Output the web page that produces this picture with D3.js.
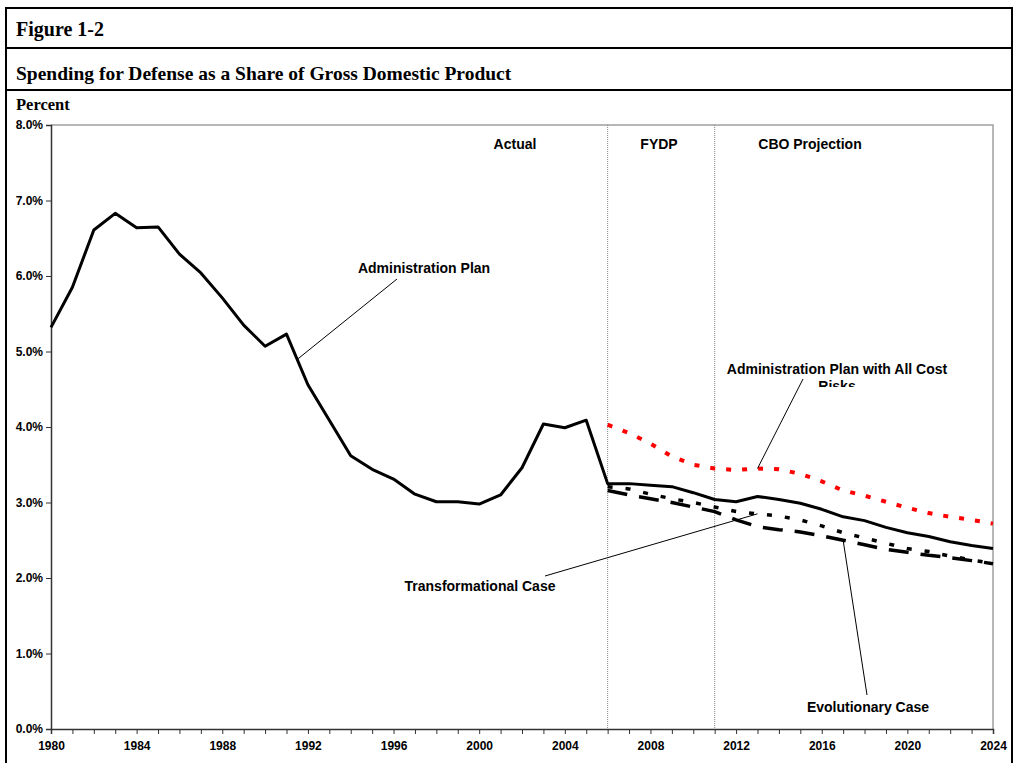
<!DOCTYPE html>
<html>
<head>
<meta charset="utf-8">
<script src="https://cdn.jsdelivr.net/npm/d3@7"></script>
<style>
  body { margin: 0; background: #fff; }
  svg { display: block; }
  .axis text { font-family: "Liberation Sans", Arial, sans-serif; font-weight: bold; font-size: 12px; fill: #000; }
  .axis path, .axis line { stroke: #333; }
  .note { font-family: "Liberation Sans", Arial, sans-serif; font-weight: bold; font-size: 14px; fill: #000; }
</style>
</head>
<body>
<div id="chart"></div>
<script>
// years
var allYears = [1980,1981,1982,1983,1984,1985,1986,1987,1988,1989,1990,1991,1992,1993,1994,1995,1996,1997,1998,1999,2000,2001,2002,2003,2004,2005,2006,2007,2008,2009,2010,2011,2012,2013,2014,2015,2016,2017,2018,2019,2020,2021,2022,2023,2024];
var projYears = [2006,2007,2008,2009,2010,2011,2012,2013,2014,2015,2016,2017,2018,2019,2020,2021,2022,2023,2024];

// percent of GDP
var adminPlan = [5.32,5.85,6.61,6.83,6.64,6.65,6.29,6.04,5.71,5.35,5.07,5.23,4.56,4.09,3.62,3.44,3.31,3.11,3.01,3.01,2.98,3.10,3.46,4.04,3.99,4.09,
                 3.25,3.25,3.23,3.21,3.13,3.04,3.01,3.08,3.04,2.99,2.91,2.81,2.76,2.67,2.60,2.55,2.48,2.43,2.39];
var allCostRisks = [4.03,3.92,3.78,3.61,3.50,3.45,3.43,3.45,3.44,3.38,3.28,3.16,3.09,3.01,2.93,2.86,2.81,2.77,2.72];
var transformational = [3.21,3.18,3.11,3.05,3.00,2.94,2.88,2.85,2.82,2.77,2.69,2.60,2.53,2.46,2.39,2.35,2.29,2.24,2.19];
var evolutionary = [3.16,3.10,3.05,3.00,2.94,2.88,2.77,2.68,2.64,2.61,2.56,2.50,2.44,2.38,2.34,2.30,2.27,2.23,2.19];

var yTicks = [0,1,2,3,4,5,6,7,8];
var xLabelYears = [1980,1984,1988,1992,1996,2000,2004,2008,2012,2016,2020,2024];
var periodBreaks = [2006, 2011];

var W = 1016, H = 763;
var plotL = 51, plotR = 993, plotT = 125, plotB = 729;

var svg = d3.select("#chart").append("svg")
    .attr("width", W)
    .attr("height", H);

svg.append("rect").attr("width", W).attr("height", H).attr("fill", "#fff");

// outer frame + header rules
var frame = svg.append("g").attr("stroke", "#000").attr("stroke-width", 2).attr("fill", "none");
frame.append("path").attr("d", "M6," + (H + 5) + "V8H1012V" + (H + 5));
frame.append("line").attr("x1", 6).attr("x2", 1012).attr("y1", 48).attr("y2", 48);
frame.append("line").attr("x1", 6).attr("x2", 1012).attr("y1", 90).attr("y2", 90);

var serif = "'Liberation Serif', 'Times New Roman', serif";
svg.append("text").attr("x", 16).attr("y", 36)
    .style("font-family", serif).style("font-weight", "bold").style("font-size", "20px")
    .text("Figure 1-2");
svg.append("text").attr("x", 16).attr("y", 80)
    .style("font-family", serif).style("font-weight", "bold").style("font-size", "19.5px")
    .text("Spending for Defense as a Share of Gross Domestic Product");
svg.append("text").attr("x", 16).attr("y", 110)
    .style("font-family", serif).style("font-weight", "bold").style("font-size", "16.5px")
    .text("Percent");

var x = d3.scaleLinear().domain([1980, 2024]).range([plotL, plotR]);
var y = d3.scaleLinear().domain([0, 8]).range([plotB, plotT]);

// plot area border (top + right) in grey
svg.append("path")
    .attr("d", "M" + plotL + "," + plotT + "H" + plotR + "V" + plotB)
    .attr("fill", "none")
    .attr("stroke", "#a0a0a0")
    .attr("stroke-width", 1.5);

// period separators
svg.selectAll(".sep")
    .data(periodBreaks)
    .enter().append("line")
    .attr("class", "sep")
    .attr("x1", function(d){ return x(d); })
    .attr("x2", function(d){ return x(d); })
    .attr("y1", plotT)
    .attr("y2", plotB)
    .attr("stroke", "#888")
    .attr("stroke-width", 1)
    .attr("stroke-dasharray", "1,1");

// axes
svg.append("g")
    .attr("class", "axis")
    .attr("transform", "translate(" + plotL + ",0)")
    .call(d3.axisLeft(y).tickValues(yTicks).tickSize(5).tickPadding(3)
        .tickFormat(function(d){ return d.toFixed(1) + "%"; }));

svg.append("g")
    .attr("class", "axis")
    .attr("transform", "translate(0," + plotB + ")")
    .call(d3.axisBottom(x).tickValues(allYears).tickSize(5).tickPadding(7)
        .tickFormat(function(d){ return xLabelYears.indexOf(d) >= 0 ? d : ""; }));

svg.selectAll(".axis .domain").attr("stroke-width", 1.5);

// series
var line = d3.line()
    .x(function(d){ return x(d[0]); })
    .y(function(d){ return y(d[1]); });

function pairs(years, vals) {
    return years.map(function(yr, i){ return [yr, vals[i]]; });
}

svg.append("path")
    .datum(pairs(projYears, evolutionary))
    .attr("d", line)
    .attr("fill", "none")
    .attr("stroke", "#000")
    .attr("stroke-width", 3.5)
    .attr("stroke-dasharray", "20,12");

svg.append("path")
    .datum(pairs(projYears, transformational))
    .attr("d", line)
    .attr("fill", "none")
    .attr("stroke", "#000")
    .attr("stroke-width", 3.5)
    .attr("stroke-dasharray", "5,13");

svg.append("path")
    .datum(pairs(projYears, allCostRisks))
    .attr("d", line)
    .attr("fill", "none")
    .attr("stroke", "#ff0000")
    .attr("stroke-width", 4)
    .attr("stroke-dasharray", "5,11");

svg.append("path")
    .datum(pairs(allYears, adminPlan))
    .attr("d", line)
    .attr("fill", "none")
    .attr("stroke", "#000")
    .attr("stroke-width", 3)
    .attr("stroke-linejoin", "round");

// section labels
svg.append("text").attr("class", "note").attr("x", 515).attr("y", 149).attr("text-anchor", "middle").text("Actual");
svg.append("text").attr("class", "note").attr("x", 659).attr("y", 149).attr("text-anchor", "middle").text("FYDP");
svg.append("text").attr("class", "note").attr("x", 810).attr("y", 149).attr("text-anchor", "middle").text("CBO Projection");

// callouts
var leader = svg.append("g").attr("stroke", "#000").attr("stroke-width", 1);

function point(years, vals, yr) {
    var i = years.indexOf(yr);
    return [x(yr), y(vals[i])];
}

var pAdmin = [x(1991.5), y((adminPlan[11] + adminPlan[12]) / 2)];
leader.append("line").attr("x1", 397).attr("y1", 279).attr("x2", pAdmin[0]).attr("y2", pAdmin[1]);
svg.append("text").attr("class", "note").attr("x", 424).attr("y", 273).attr("text-anchor", "middle").text("Administration Plan");

var pRisk = point(projYears, allCostRisks, 2013);
leader.append("line").attr("x1", 803).attr("y1", 379).attr("x2", pRisk[0]).attr("y2", pRisk[1]);
svg.append("clipPath").attr("id", "riskClip")
    .append("rect").attr("x", 700).attr("y", 355).attr("width", 280).attr("height", 32);
var riskText = svg.append("text").attr("class", "note").attr("clip-path", "url(#riskClip)")
    .attr("text-anchor", "middle");
riskText.append("tspan").attr("x", 837).attr("y", 374).text("Administration Plan with All Cost");
riskText.append("tspan").attr("x", 837).attr("y", 391).text("Risks");

var pTrans = point(projYears, transformational, 2013);
leader.append("line").attr("x1", 545).attr("y1", 576).attr("x2", pTrans[0]).attr("y2", pTrans[1]);
svg.append("text").attr("class", "note").attr("x", 480).attr("y", 591).attr("text-anchor", "middle").text("Transformational Case");

var pEvo = point(projYears, evolutionary, 2017);
leader.append("line").attr("x1", 867).attr("y1", 695).attr("x2", pEvo[0]).attr("y2", pEvo[1]);
svg.append("text").attr("class", "note").attr("x", 868).attr("y", 712).attr("text-anchor", "middle").text("Evolutionary Case");
</script>
</body>
</html>
